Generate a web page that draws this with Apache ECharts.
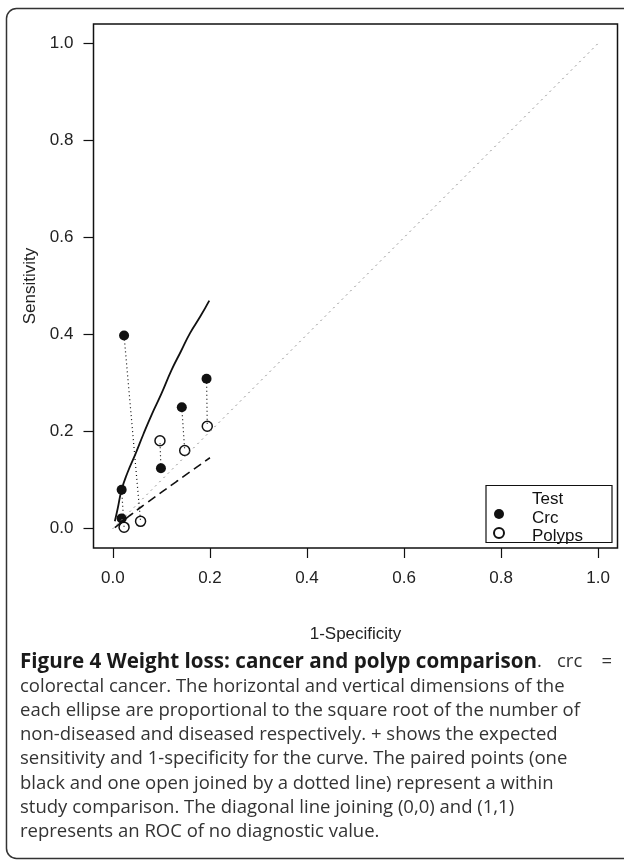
<!DOCTYPE html>
<html><head><meta charset="utf-8">
<script src="https://cdn.jsdelivr.net/npm/echarts@6/dist/echarts.min.js"></script>
<style>html,body{margin:0;padding:0;background:#fff}#c{width:624px;height:861px}</style>
</head><body><div id="c"></div>
<script>
// ---- data ----
const xTicks = [0, 0.2, 0.4, 0.6, 0.8, 1.0];
const yTicks = [0, 0.2, 0.4, 0.6, 0.8, 1.0];
const crcX = [0.023, 0.193, 0.142, 0.099, 0.018, 0.018];
const crcY = [0.398, 0.309, 0.250, 0.1245, 0.080, 0.021];
const polypsX = [0.057, 0.1945, 0.148, 0.097, 0.023];
const polypsY = [0.015, 0.211, 0.161, 0.181, 0.003];
// within-study pairs: crc index -> polyps index
const pairCrc = [0, 1, 2, 3, 4];
const pairPolyps = [0, 1, 2, 3, 4];
// SROC curves
const crcCurveX = [0.004, 0.010, 0.018, 0.030, 0.047, 0.063, 0.080, 0.100, 0.121, 0.140, 0.159, 0.180, 0.1986];
const crcCurveY = [0.015, 0.042, 0.080, 0.115, 0.155, 0.195, 0.235, 0.278, 0.327, 0.365, 0.403, 0.437, 0.470];
const polypsCurveX = [0.004, 0.035, 0.070, 0.131, 0.200];
const polypsCurveY = [0.002, 0.027, 0.053, 0.097, 0.146];
const diagX = [0, 1];
const diagY = [0, 1];
const legendNames = ['Crc', 'Polyps'];
const legendTitle = 'Test';
const xName = '1-Specificity';
const yName = 'Sensitivity';
const captionBold = 'Figure 4 Weight loss: cancer and polyp comparison';
const captionTail = ['.', 'crc', '='];
const captionLines = [
  'colorectal cancer. The horizontal and vertical dimensions of the',
  'each ellipse are proportional to the square root of the number of',
  'non-diseased and diseased respectively. + shows the expected',
  'sensitivity and 1-specificity for the curve. The paired points (one',
  'black and one open joined by a dotted line) represent a within',
  'study comparison. The diagonal line joining (0,0) and (1,1)',
  'represents an ROC of no diagnostic value.'
];

const zip = (xs, ys) => xs.map((x, i) => [x, ys[i]]);
const AX = 'Liberation Sans, Arial, sans-serif';
const CAP = '"Open Sans", sans-serif';

const series = [
  { type: 'line', name: 'diag', data: zip(diagX, diagY), symbol: 'none', silent: true,
    lineStyle: { color: '#8a8a8a', width: 1, type: [1, 5], cap: 'round' } },
  { type: 'line', name: 'crcCurve', data: zip(crcCurveX, crcCurveY), symbol: 'none', smooth: true, silent: true,
    lineStyle: { color: '#111', width: 1.8 } },
  { type: 'line', name: 'polypsCurve', data: zip(polypsCurveX, polypsCurveY), symbol: 'none', smooth: true, silent: true,
    lineStyle: { color: '#111', width: 1.6, type: [9, 5] } }
];
pairCrc.forEach((ci, k) => {
  const pi = pairPolyps[k];
  series.push({ type: 'line', name: 'pair' + k, silent: true, symbol: 'none',
    data: [[crcX[ci], crcY[ci]], [polypsX[pi], polypsY[pi]]],
    lineStyle: { color: '#111', width: 1.2, type: [1, 3] } });
});
series.push({ type: 'scatter', name: legendNames[0], data: zip(crcX, crcY), symbol: 'circle', symbolSize: 10,
  itemStyle: { color: '#111', opacity: 1 } });
series.push({ type: 'scatter', name: legendNames[1], data: zip(polypsX, polypsY), symbol: 'circle', symbolSize: 10,
  itemStyle: { color: '#fff', borderColor: '#111', borderWidth: 1.5, opacity: 1 } });

const graphic = [
  { type: 'rect', shape: { x: 6.5, y: 8.5, width: 630, height: 850, r: 10 }, silent: true,
    style: { fill: 'none', stroke: '#333', lineWidth: 1.5 } },
  { type: 'rect', shape: { x: 486, y: 485.5, width: 126, height: 57 }, silent: true, z: 10,
    style: { fill: 'none', stroke: '#111', lineWidth: 1.2 } },
  { type: 'text', x: 532, y: 499, z: 10, silent: true,
    style: { text: legendTitle, font: '17px ' + AX, fill: '#111', textVerticalAlign: 'middle' } },
  { type: 'text', x: 532, y: 518, z: 10, silent: true,
    style: { text: legendNames[0], font: '17px ' + AX, fill: '#111', textVerticalAlign: 'middle' } },
  { type: 'text', x: 532, y: 536, z: 10, silent: true,
    style: { text: legendNames[1], font: '17px ' + AX, fill: '#111', textVerticalAlign: 'middle' } },
  { type: 'text', x: 20, y: 662, silent: true,
    style: { text: '{b|' + captionBold + '}{r|' + captionTail[0] + '}', textVerticalAlign: 'middle',
      rich: { b: { fontFamily: CAP, fontSize: 20.6, fontWeight: 'bold', fill: '#1a1a1a' },
              r: { fontFamily: CAP, fontSize: 18.5, fill: '#333' } } } },
  { type: 'text', x: 557, y: 662, silent: true,
    style: { text: captionTail[1], font: '18.5px ' + CAP, fill: '#333', textVerticalAlign: 'middle' } },
  { type: 'text', x: 612, y: 662, silent: true,
    style: { text: captionTail[2], font: '18.5px ' + CAP, fill: '#333', textVerticalAlign: 'middle', textAlign: 'right' } }
];
captionLines.forEach((t, i) => {
  graphic.push({ type: 'text', x: 20, y: 686.3 + i * 24.3, silent: true,
    style: { text: t, font: '18.5px ' + CAP, fill: '#333', textVerticalAlign: 'middle' } });
});

const axisCommon = {
  type: 'value', min: -0.04, max: 1.04,
  splitLine: { show: false },
  axisLine: { show: false, onZero: false },
};

const chart = echarts.init(document.getElementById('c'));
chart.setOption({
  animation: false,
  backgroundColor: '#fff',
  grid: { left: 93.5, right: 6.5, top: 24, bottom: 313, show: true, borderColor: '#111', borderWidth: 1.5,
    backgroundColor: 'transparent', containLabel: false, outerBoundsMode: 'none' },
  xAxis: Object.assign({}, axisCommon, {
    axisTick: { show: true, customValues: xTicks, length: 10, lineStyle: { color: '#111', width: 1.2 } },
    axisLabel: { show: true, customValues: xTicks, formatter: v => v.toFixed(1), margin: 22,
      fontSize: 17, fontFamily: AX, color: '#222' },
    name: xName, nameLocation: 'middle', nameGap: 78,
    nameTextStyle: { fontSize: 17, fontFamily: AX, color: '#222' }
  }),
  yAxis: Object.assign({}, axisCommon, {
    axisTick: { show: true, customValues: yTicks, length: 10, lineStyle: { color: '#111', width: 1.2 } },
    axisLabel: { show: true, customValues: yTicks, formatter: v => v.toFixed(1), margin: 20,
      fontSize: 17, fontFamily: AX, color: '#222' },
    name: yName, nameLocation: 'middle', nameGap: 47,
    nameTextStyle: { fontSize: 17, fontFamily: AX, color: '#222' }
  }),
  legend: { data: legendNames, orient: 'vertical', left: 493, top: 509, itemWidth: 10, itemHeight: 10,
    itemGap: 8, padding: 0, z: 11, selectedMode: false, formatter: () => '',
    textStyle: { fontSize: 1, lineHeight: 1 } },
  series: series,
  graphic: graphic
});
</script></body></html>
